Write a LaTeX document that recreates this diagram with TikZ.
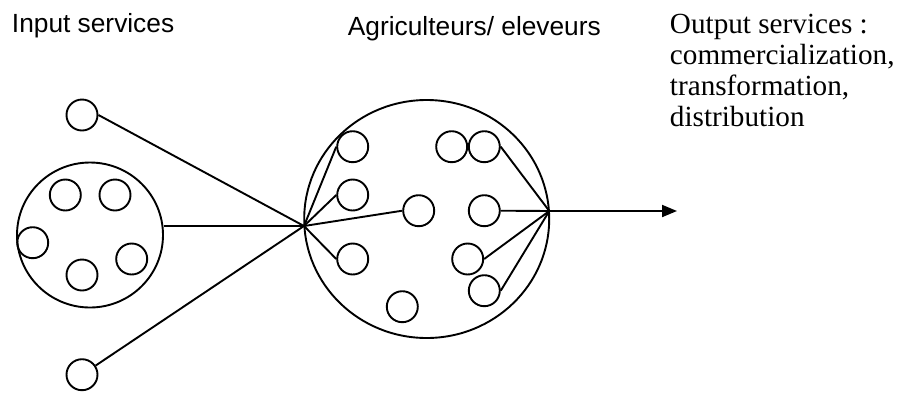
\documentclass[tikz,border=0pt]{standalone}
\usepackage{fontspec}
\setmainfont{Liberation Serif}
\setsansfont{Liberation Sans}
\usetikzlibrary{arrows.meta,shapes.geometric}

\begin{document}
\begin{tikzpicture}[
    x=1pt, y=-1pt,
    line width=1.9pt,
    unit/.style={circle, draw, minimum size=31pt, inner sep=0pt},
    group/.style={ellipse, draw, inner sep=0pt},
    heading/.style={font=\fontsize{26.3}{30}\sffamily, anchor=base west, inner sep=0pt},
    arr/.style={-{Triangle[length=15pt, width=12pt]}}
  ]
  \useasboundingbox (0,0) rectangle (898,392);

  % titles
  \node[heading] (tin)  at (11,32.7) {Input services};
  \node[heading] (tfarm) at (347,35) {Agriculteurs/ eleveurs};
  \node[font=\fontsize{29.2}{31}\selectfont, align=left, anchor=base west, inner sep=0pt] (tout) at (669,126.7)
    {Output services :\\commercialization,\\transformation,\\distribution};

  % input side
  \node[unit] (in1) at (82,115) {};
  \node[unit] (in2) at (82,374.7) {};
  \node[group, minimum width=146pt, minimum height=145pt] (inputs) at (90,235) {};
  \node[unit] (i1) at (65.3,195) {};
  \node[unit] (i2) at (115,195) {};
  \node[unit] (i3) at (32.7,242.7) {};
  \node[unit] (i4) at (131.7,259) {};
  \node[unit] (i5) at (82,275) {};

  % farmers
  \node[group, minimum width=245pt, minimum height=238pt] (farm) at (426.7,219) {};
  \node[unit] (f1) at (352.7,146.7) {};
  \node[unit] (f2) at (352.7,195) {};
  \node[unit] (f3) at (418.7,210.7) {};
  \node[unit] (f4) at (352.7,259) {};
  \node[unit] (f5) at (402.3,306.7) {};
  \node[unit] (f6) at (451.7,146.7) {};
  \node[unit] (f7) at (484.3,146.7) {};
  \node[unit] (f8) at (484.3,210.7) {};
  \node[unit] (f9) at (467.7,259) {};
  \node[unit] (f10) at (484.3,290.7) {};

  \coordinate (hubin) at (304,226);
  \coordinate (hubout) at (549.3,211);
  \coordinate (outend) at (677,211);

  \draw (in1.east) -- (hubin);
  \draw (in2) -- (hubin);
  \draw (inputs.east |- hubin) -- (hubin);
  \foreach \f in {f1,f2,f3,f4}
    \draw (hubin) -- (\f.west);
  \foreach \f in {f7,f8,f9,f10}
    \draw (\f.east) -- (hubout);
  \draw[arr] (hubout) -- (outend);
\end{tikzpicture}
\end{document}
